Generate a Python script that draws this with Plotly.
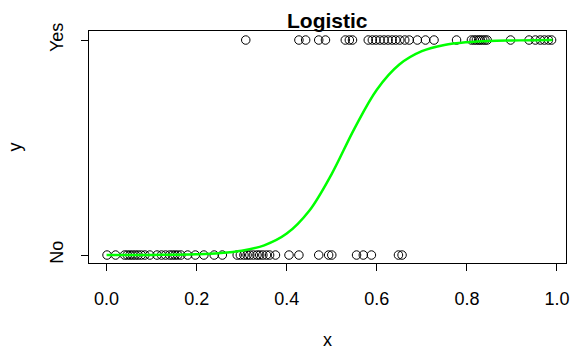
import plotly.graph_objects as go

# Observations with response "Yes" (y = 1)
x_yes = [0.309, 0.427, 0.442, 0.471, 0.486, 0.530, 0.539, 0.546,
         0.581, 0.590, 0.598, 0.607, 0.616, 0.625, 0.634, 0.642,
         0.651, 0.662, 0.672, 0.690, 0.708, 0.727, 0.777,
         0.810, 0.816, 0.821, 0.826, 0.830, 0.835, 0.840, 0.845,
         0.897, 0.938, 0.952, 0.963, 0.972, 0.981, 0.988]
# Observations with response "No" (y = 0)
x_no = [0.001, 0.020, 0.040, 0.046, 0.052, 0.058, 0.064, 0.070, 0.077,
        0.085, 0.096, 0.112, 0.122, 0.131, 0.140, 0.146, 0.152, 0.158,
        0.165, 0.180, 0.197, 0.216, 0.239, 0.257, 0.290, 0.297, 0.305,
        0.312, 0.318, 0.326, 0.334, 0.340, 0.347, 0.355, 0.362, 0.375,
        0.405, 0.427, 0.471, 0.493, 0.500, 0.555, 0.570, 0.588, 0.648, 0.656]

# Fitted logistic curve
curve_x = [0.0, 0.05, 0.1, 0.15, 0.2, 0.25, 0.3, 0.35, 0.4, 0.45, 0.5,
           0.55, 0.6, 0.65, 0.7, 0.75, 0.8, 0.85, 0.9, 0.95, 0.99]
curve_p = [0.0001, 0.0003, 0.0007, 0.0016, 0.0037, 0.0086, 0.0198, 0.0452,
           0.0998, 0.206, 0.378, 0.587, 0.769, 0.886, 0.948, 0.977, 0.990,
           0.996, 0.998, 0.999, 1.0]

x_ticks = [0.0, 0.2, 0.4, 0.6, 0.8, 1.0]
x_tick_labels = ["0.0", "0.2", "0.4", "0.6", "0.8", "1.0"]
y_ticks = [0, 1]
y_tick_labels = ["No", "Yes"]

FONT = "Liberation Sans, Arial, Helvetica, sans-serif"

fig = go.Figure()
fig.add_trace(go.Scatter(
    x=x_no + x_yes,
    y=[0] * len(x_no) + [1] * len(x_yes),
    mode="markers",
    marker=dict(symbol="circle-open", size=8.5, color="black",
                line=dict(width=1, color="black")),
    showlegend=False, hoverinfo="x"))
fig.add_trace(go.Scatter(
    x=curve_x, y=curve_p, mode="lines",
    line=dict(color="#00ff00", width=2.5, shape="spline"),
    showlegend=False))

fig.update_layout(
    width=573, height=349,
    margin=dict(l=89, r=4, t=31, b=86),
    paper_bgcolor="white", plot_bgcolor="white",
    font=dict(family=FONT, size=18, color="black"),
    xaxis=dict(range=[-0.039, 1.020], tickvals=x_ticks, ticktext=x_tick_labels,
               showgrid=False, zeroline=False, showline=True, mirror=True,
               linecolor="black", linewidth=1, ticks="outside", ticklen=7,
               tickcolor="black", ticklabelstandoff=12),
    yaxis=dict(range=[-0.037, 1.042], tickvals=y_ticks, ticktext=y_tick_labels,
               tickangle=-90,
               showgrid=False, zeroline=False, showline=True, mirror=True,
               linecolor="black", linewidth=1, ticks="outside", ticklen=7,
               tickcolor="black", ticklabelstandoff=11),
    annotations=[
        dict(text="<b>Logistic</b>", xref="paper", yref="paper", x=0.5,
             y=1 + 11 / 232, xanchor="center", yanchor="middle",
             showarrow=False, font=dict(size=21)),
        dict(text="x", xref="paper", yref="paper", x=0.5, y=-77 / 232,
             xanchor="center", yanchor="middle", showarrow=False),
        dict(text="y", xref="paper", yref="paper", x=-74 / 480, y=0.5,
             xanchor="center", yanchor="middle", textangle=-90,
             showarrow=False),
    ],
)

fig.write_html("out.html", config={"displayModeBar": False},
               post_script="document.body.style.margin='0';"
                           "document.body.style.overflow='hidden';")
